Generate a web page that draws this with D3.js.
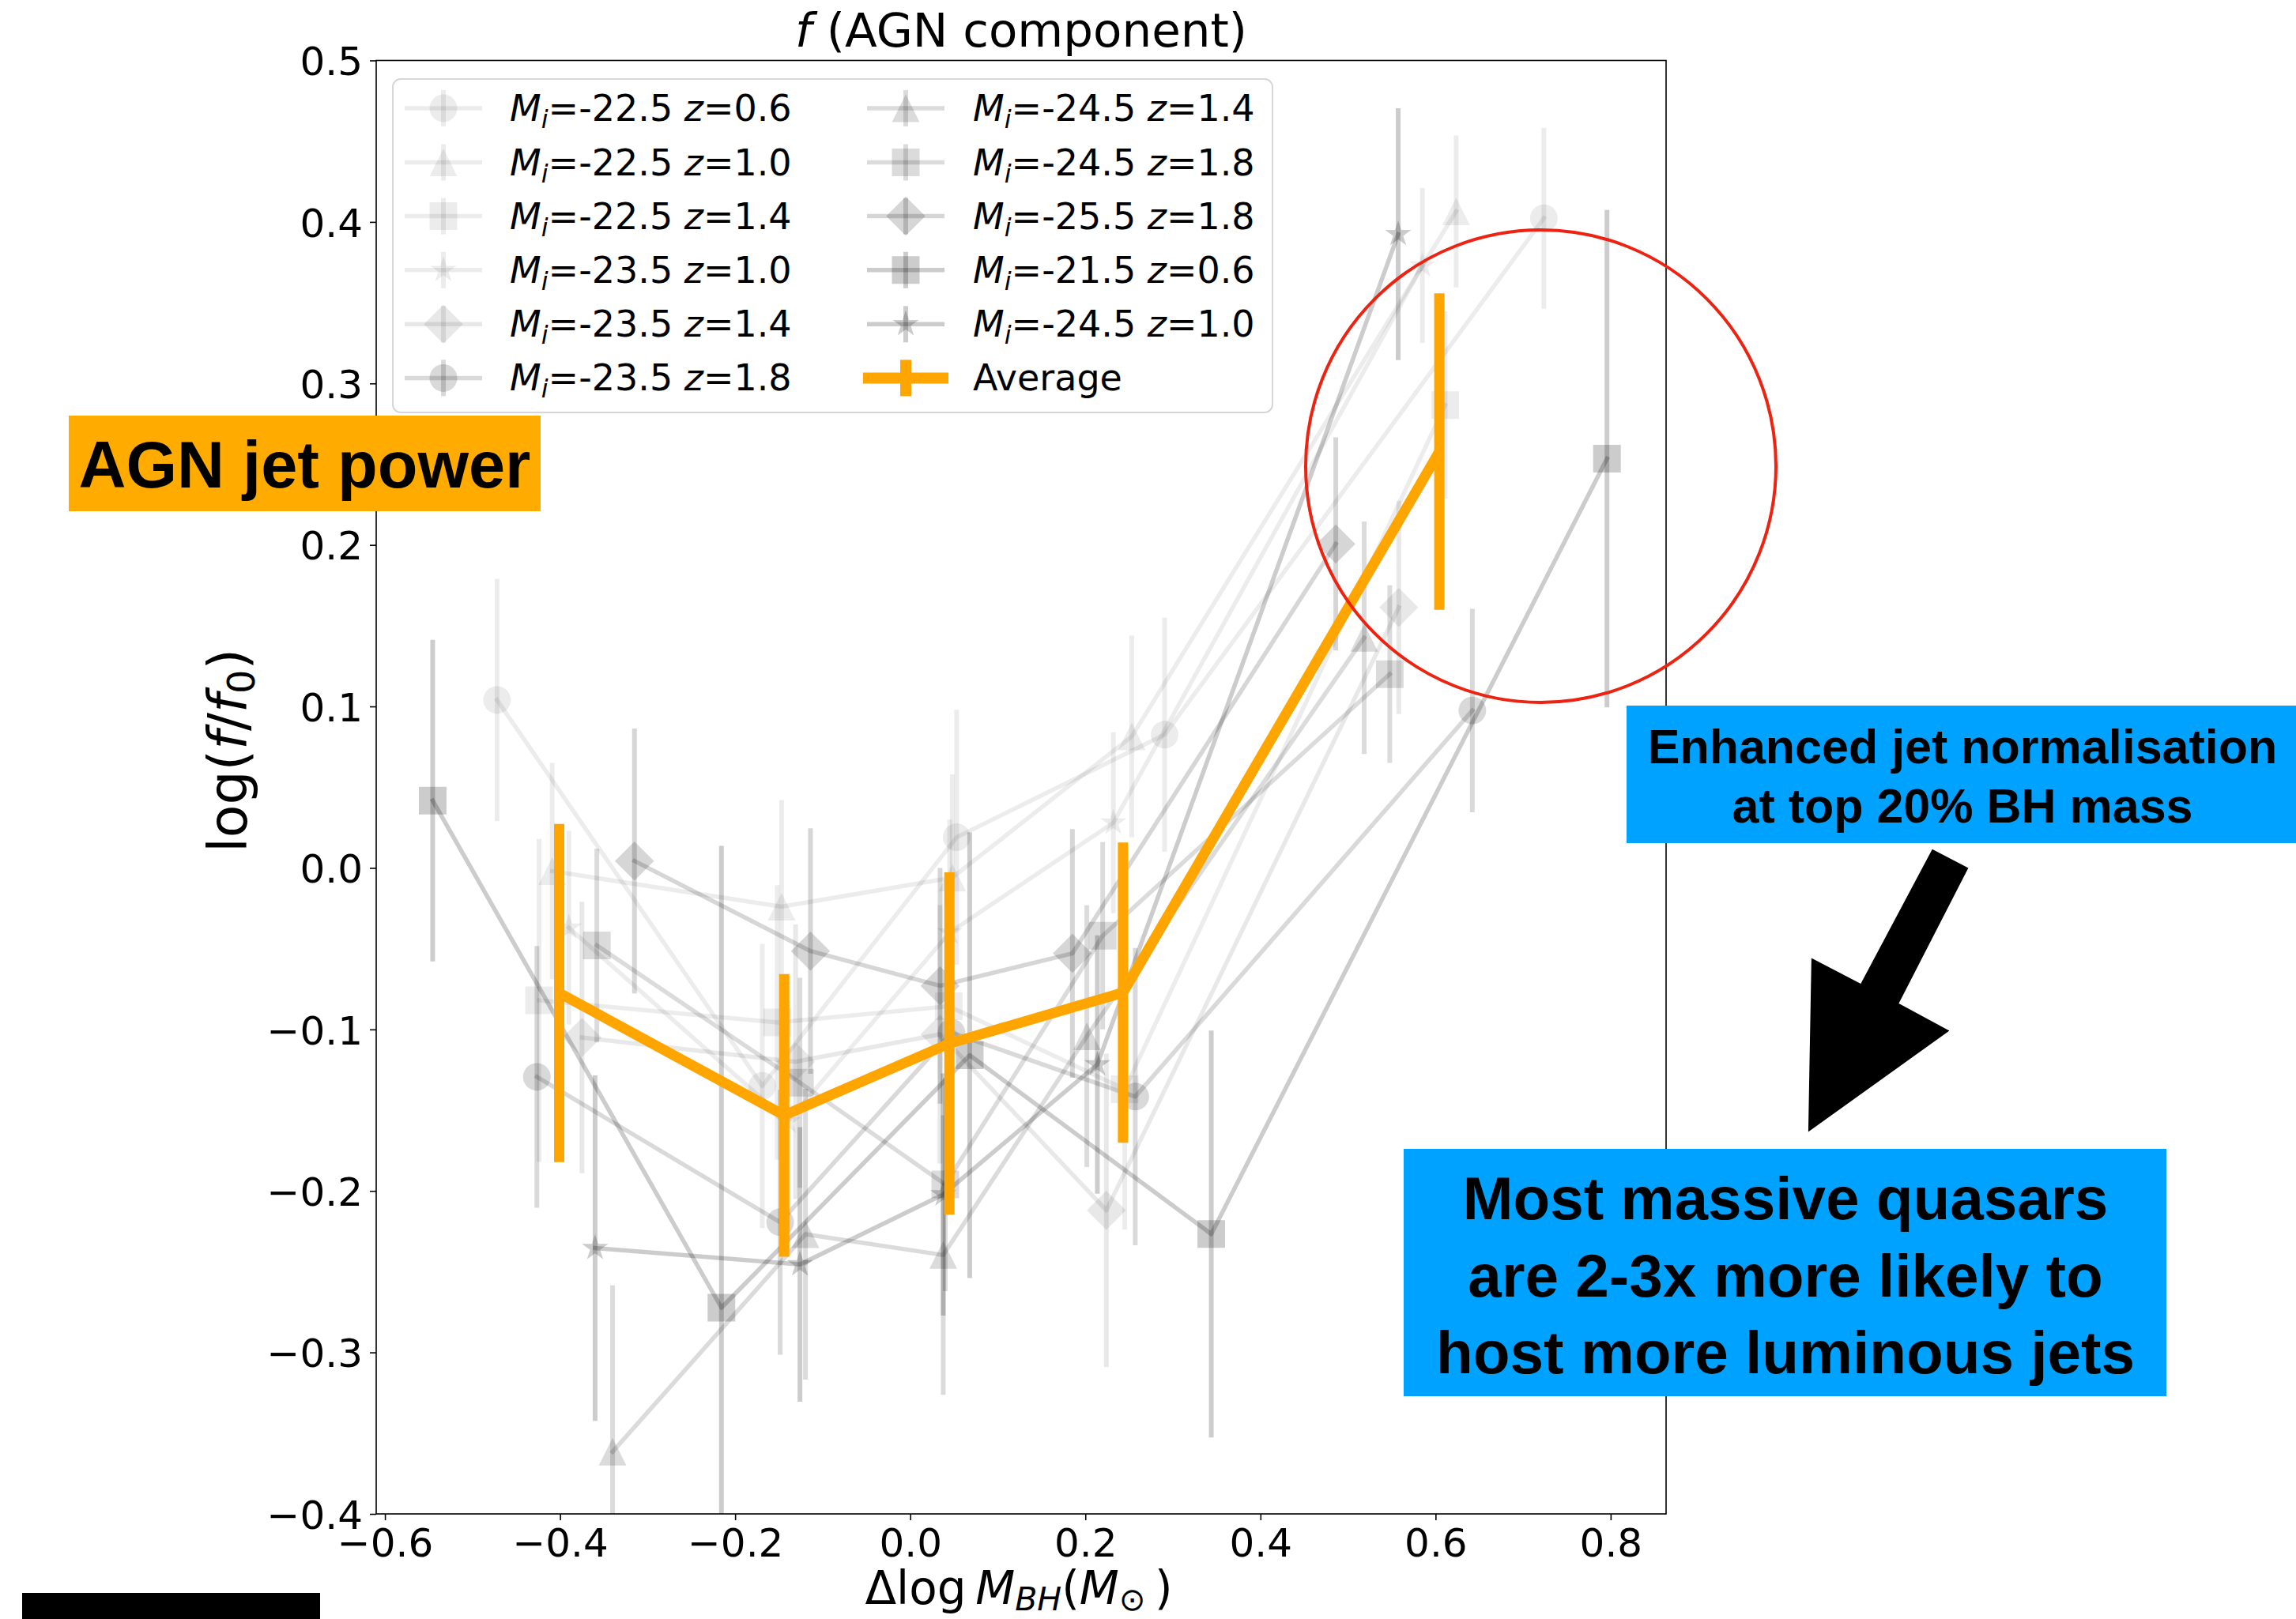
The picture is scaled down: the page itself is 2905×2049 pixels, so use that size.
<!DOCTYPE html>
<html>
<head>
<meta charset="utf-8">
<script src="https://cdn.jsdelivr.net/npm/d3@7"></script>
<style>
html,body{margin:0;padding:0;background:#fff;}
svg{display:block;}
</style>
</head>
<body>
<svg id="chart" width="2905" height="2049"></svg>
<script>
// ---------------- DATA ----------------
const magnitudes = ["-22.5","-22.5","-22.5","-23.5","-23.5","-23.5","-24.5","-24.5","-25.5","-21.5","-24.5"];
const redshifts  = ["0.6","1.0","1.4","1.0","1.4","1.8","1.4","1.8","1.8","0.6","1.0"];
const markerShapes = ["circle","triangle","square","star","diamond","circle","triangle","square","diamond","square","star"];

// Mi=-22.5 z=0.6
const s1X = [-0.472, -0.169, 0.053, 0.2905, 0.7237];
const s1Y = [0.104, -0.135, 0.019, 0.0825, 0.4023];
const s1E = [0.075, 0.088, 0.079, 0.0725, 0.056];
// Mi=-22.5 z=1.0
const s2X = [-0.409, -0.147, 0.048, 0.253, 0.6235];
const s2Y = [-0.002, -0.024, -0.006, 0.0814, 0.4065];
const s2E = [0.067, 0.066, 0.064, 0.0625, 0.047];
// Mi=-22.5 z=1.4
const s3X = [-0.424, -0.152, 0.044, 0.245, 0.611];
const s3Y = [-0.082, -0.0957, -0.0856, -0.137, 0.2866];
const s3E = [0.10, 0.085, 0.075, 0.087, 0.058];
// Mi=-23.5 z=1.0
const s4X = [-0.390, -0.140, 0.045, 0.232, 0.585];
const s4Y = [-0.037, -0.157, -0.04, 0.028, 0.373];
const s4E = [0.06, 0.075, 0.07, 0.056, 0.048];
// Mi=-23.5 z=1.4
const s5X = [-0.375, -0.131, 0.034, 0.224, 0.558];
const s5Y = [-0.105, -0.12, -0.103, -0.212, 0.1613];
const s5E = [0.084, 0.085, 0.08, 0.097, 0.066];
// Mi=-23.5 z=1.8
const s6X = [-0.4265, -0.1486, 0.047, 0.257, 0.642];
const s6Y = [-0.1294, -0.2194, -0.102, -0.1416, 0.0975];
const s6E = [0.081, 0.082, 0.085, 0.092, 0.063];
// Mi=-24.5 z=1.4
const s7X = [-0.340, -0.1197, 0.0377, 0.2017, 0.5185];
const s7Y = [-0.3615, -0.2268, -0.2397, -0.1042, 0.1425];
const s7E = [0.103, 0.090, 0.0865, 0.081, 0.072];
// Mi=-24.5 z=1.8
const s8X = [-0.358, -0.126, 0.040, 0.2198, 0.5477];
const s8Y = [-0.048, -0.133, -0.196, -0.042, 0.12];
const s8E = [0.060, 0.065, 0.066, 0.058, 0.055];
// Mi=-25.5 z=1.8
const s9X = [-0.315, -0.114, 0.0341, 0.1852, 0.486];
const s9Y = [0.0043, -0.0515, -0.073, -0.0529, 0.2006];
const s9E = [0.082, 0.076, 0.073, 0.077, 0.066];
// Mi=-21.5 z=0.6
const s10X = [-0.5455, -0.2157, 0.0679, 0.3438, 0.7958];
const s10Y = [0.0417, -0.2723, -0.116, -0.2267, 0.2534];
const s10E = [0.0996, 0.286, 0.138, 0.126, 0.154];
// Mi=-24.5 z=1.0
const s11X = [-0.360, -0.126, 0.0377, 0.2137, 0.5573];
const s11Y = [-0.2354, -0.2455, -0.2022, -0.1217, 0.3924];
const s11E = [0.107, 0.085, 0.075, 0.080, 0.078];
// Average
const avgX = [-0.401, -0.144, 0.0447, 0.243, 0.6043];
const avgY = [-0.0774, -0.1532, -0.1087, -0.0772, 0.2578];
const avgE = [0.1047, 0.0875, 0.106, 0.093, 0.098];

const xTicks = [-0.6, -0.4, -0.2, 0.0, 0.2, 0.4, 0.6, 0.8];
const yTicks = [-0.4, -0.3, -0.2, -0.1, 0.0, 0.1, 0.2, 0.3, 0.4, 0.5];

// ---------------- STYLE ----------------
const seriesAlpha = [0.075, 0.075, 0.075, 0.075, 0.09, 0.15, 0.14, 0.14, 0.16, 0.2, 0.2];
const allX = [s1X,s2X,s3X,s4X,s5X,s6X,s7X,s8X,s9X,s10X,s11X];
const allY = [s1Y,s2Y,s3Y,s4Y,s5Y,s6Y,s7Y,s8Y,s9Y,s10Y,s11Y];
const allE = [s1E,s2E,s3E,s4E,s5E,s6E,s7E,s8E,s9E,s10E,s11E];
const series = magnitudes.map((m, i) => ({
  mag: m, z: redshifts[i], shape: markerShapes[i], alpha: seriesAlpha[i],
  pts: allX[i].map((x, j) => ({x, y: allY[i][j], e: allE[i][j]}))
}));
const avgPts = avgX.map((x, j) => ({x, y: avgY[j], e: avgE[j]}));

const ORANGE = "#FFA500";
const MS = 35;         // marker size
const LW = 5.5;        // gray line width
const ELW = 6;         // gray error bar width
const ALW = 13;        // average line width

const plot = {left: 476, right: 2108, top: 76.5, bottom: 1916};
const x = d3.scaleLinear().domain([-0.61, 0.8633]).range([plot.left, plot.right]);
const y = d3.scaleLinear().domain([-0.4, 0.5]).range([plot.bottom, plot.top]);

const svg = d3.select("#chart");
svg.append("rect").attr("width", 2905).attr("height", 2049).attr("fill", "#fff");

svg.append("defs").append("clipPath").attr("id", "clip")
  .append("rect").attr("x", plot.left).attr("y", plot.top)
  .attr("width", plot.right - plot.left).attr("height", plot.bottom - plot.top);

function markerPath(shape, ms) {
  const r = ms / 2;
  if (shape === "circle") {
    const p = d3.path(); p.arc(0, 0, r, 0, 2 * Math.PI); p.closePath(); return p.toString();
  }
  if (shape === "square") return `M${-r},${-r}H${r}V${r}H${-r}Z`;
  if (shape === "diamond") { const d = r * Math.SQRT2; return `M0,${-d}L${d},0L0,${d}L${-d},0Z`; }
  if (shape === "triangle") return `M0,${-r}L${r},${r}L${-r},${r}Z`;
  if (shape === "star") {
    let s = "";
    for (let i = 0; i < 10; i++) {
      const rad = (i % 2 === 0) ? r : r * 0.381966;
      const a = -Math.PI / 2 + i * Math.PI / 5;
      s += (i === 0 ? "M" : "L") + (rad * Math.cos(a)).toFixed(2) + "," + (rad * Math.sin(a)).toFixed(2);
    }
    return s + "Z";
  }
}

const line = d3.line().x(d => x(d.x)).y(d => y(d.y));
const dataG = svg.append("g").attr("clip-path", "url(#clip)");

series.forEach(s => {
  const g = dataG.append("g");
  g.append("path").attr("d", line(s.pts)).attr("fill", "none")
    .attr("stroke", "#000").attr("stroke-opacity", s.alpha).attr("stroke-width", LW)
    .attr("stroke-linejoin", "round").attr("stroke-linecap", "square");
  g.selectAll("line.eb").data(s.pts).join("line").attr("class", "eb")
    .attr("x1", d => x(d.x)).attr("x2", d => x(d.x))
    .attr("y1", d => y(d.y - d.e)).attr("y2", d => y(d.y + d.e))
    .attr("stroke", "#000").attr("stroke-opacity", s.alpha).attr("stroke-width", ELW);
  g.selectAll("path.mk").data(s.pts).join("path").attr("class", "mk")
    .attr("d", markerPath(s.shape, MS))
    .attr("transform", d => `translate(${x(d.x)},${y(d.y)})`)
    .attr("fill", "#000").attr("fill-opacity", s.alpha);
});

// Average
const ag = dataG.append("g");
ag.append("path").attr("d", line(avgPts)).attr("fill", "none")
  .attr("stroke", ORANGE).attr("stroke-width", ALW).attr("stroke-linejoin", "round");
ag.selectAll("line").data(avgPts).join("line")
  .attr("x1", d => x(d.x)).attr("x2", d => x(d.x))
  .attr("y1", d => y(d.y - d.e)).attr("y2", d => y(d.y + d.e))
  .attr("stroke", ORANGE).attr("stroke-width", ALW);

// ---------------- AXES ----------------
const FONT = "'DejaVu Sans', sans-serif";
const fmt = d3.format(".1f");
const xAxis = svg.append("g").attr("transform", `translate(0,${plot.bottom})`)
  .call(d3.axisBottom(x).tickValues(xTicks).tickFormat(fmt).tickSize(8).tickPadding(10));
xAxis.select(".domain").remove();
xAxis.selectAll("line").attr("stroke", "#000").attr("stroke-width", 1.6);
xAxis.selectAll("text").attr("font-family", FONT).attr("font-size", 50).attr("fill", "#000")
  .attr("y", 18).attr("dy", "0.71em");

const yAxis = svg.append("g").attr("transform", `translate(${plot.left},0)`)
  .call(d3.axisLeft(y).tickValues(yTicks).tickFormat(fmt).tickSize(8).tickPadding(9));
yAxis.select(".domain").remove();
yAxis.selectAll("line").attr("stroke", "#000").attr("stroke-width", 1.6);
yAxis.selectAll("text").attr("font-family", FONT).attr("font-size", 50).attr("fill", "#000")
  .attr("dy", "0.365em");

svg.append("rect").attr("x", plot.left).attr("y", plot.top)
  .attr("width", plot.right - plot.left).attr("height", plot.bottom - plot.top)
  .attr("fill", "none").attr("stroke", "#000").attr("stroke-width", 1.6);

// Title
const title = svg.append("text").attr("x", (plot.left + plot.right) / 2).attr("y", 59)
  .attr("text-anchor", "middle").attr("font-family", FONT).attr("font-size", 59.5).attr("fill", "#000");
title.append("tspan").attr("font-style", "italic").text("f");
title.append("tspan").text(" (AGN component)");

// X label
const xl = svg.append("text").attr("x", 1289).attr("y", 2030)
  .attr("text-anchor", "middle").attr("font-family", FONT).attr("font-size", 58).attr("fill", "#000");
xl.append("tspan").text("\u0394log\u2009");
xl.append("tspan").attr("font-style", "italic").text("M");
xl.append("tspan").attr("font-style", "italic").attr("font-size", 41).attr("dy", 8).text("BH");
xl.append("tspan").attr("dy", -8).text("(");
xl.append("tspan").attr("font-style", "italic").text("M");
xl.append("tspan").attr("font-size", 40).attr("dy", 8).text("\u2299");
xl.append("tspan").attr("dy", -8).text("\u2009)");

// Y label
const yl = svg.append("text").attr("transform", "translate(312,950) rotate(-90)")
  .attr("text-anchor", "middle").attr("font-family", FONT).attr("font-size", 68).attr("fill", "#000");
yl.append("tspan").text("log(");
yl.append("tspan").attr("font-style", "italic").text("f");
yl.append("tspan").text("/");
yl.append("tspan").attr("font-style", "italic").text("f");
yl.append("tspan").attr("font-size", 48).attr("dy", 10).text("0");
yl.append("tspan").attr("dy", -10).text(")");

// ---------------- LEGEND ----------------
const leg = svg.append("g");
leg.append("rect").attr("x", 497).attr("y", 100).attr("width", 1113).attr("height", 422)
  .attr("rx", 10).attr("fill", "#fff").attr("fill-opacity", 0.8)
  .attr("stroke", "#d6d6d6").attr("stroke-width", 2);
const rowY = [137, 205.5, 273.6, 341.8, 410.3, 478.4];
const colHandleX = [561, 1146];
const colTextX = [645, 1231];
const entries = series.map(s => ({type: "s", s})).concat([{type: "avg"}]);
entries.forEach((en, i) => {
  const col = Math.floor(i / 6), row = i % 6;
  const cx = colHandleX[col], cy = rowY[row];
  const g = leg.append("g");
  if (en.type === "s") {
    const s = en.s;
    g.append("line").attr("x1", cx - 49).attr("x2", cx + 49).attr("y1", cy).attr("y2", cy)
      .attr("stroke", "#000").attr("stroke-opacity", s.alpha).attr("stroke-width", LW);
    g.append("line").attr("x1", cx).attr("x2", cx).attr("y1", cy - 23).attr("y2", cy + 23)
      .attr("stroke", "#000").attr("stroke-opacity", s.alpha).attr("stroke-width", ELW);
    g.append("path").attr("d", markerPath(s.shape, MS)).attr("transform", `translate(${cx},${cy})`)
      .attr("fill", "#000").attr("fill-opacity", s.alpha);
    const t = g.append("text").attr("x", colTextX[col]).attr("y", cy + 16)
      .attr("font-family", FONT).attr("font-size", 46).attr("fill", "#000");
    t.append("tspan").attr("font-style", "italic").text("M");
    t.append("tspan").attr("font-style", "italic").attr("font-size", 32).attr("dy", 9).text("i");
    t.append("tspan").attr("dy", -9).text("=" + s.mag + " ");
    t.append("tspan").attr("font-style", "italic").text("z");
    t.append("tspan").text("=" + s.z);
  } else {
    g.append("line").attr("x1", cx - 54).attr("x2", cx + 54).attr("y1", cy).attr("y2", cy)
      .attr("stroke", ORANGE).attr("stroke-width", 14);
    g.append("line").attr("x1", cx).attr("x2", cx).attr("y1", cy - 23).attr("y2", cy + 23)
      .attr("stroke", ORANGE).attr("stroke-width", 14);
    g.append("text").attr("x", colTextX[col]).attr("y", cy + 16)
      .attr("font-family", FONT).attr("font-size", 46).attr("fill", "#000").text("Average");
  }
});

// ---------------- ANNOTATIONS ----------------
const AFONT = "'Liberation Sans', Arial, sans-serif";
const BLUE = "#00A2FF";

svg.append("rect").attr("x", 87).attr("y", 526).attr("width", 597).attr("height", 121).attr("fill", "#FFAB00");
svg.append("text").attr("x", 385.5).attr("y", 617).attr("text-anchor", "middle")
  .attr("font-family", AFONT).attr("font-weight", "bold").attr("font-size", 83).attr("fill", "#000")
  .text("AGN jet power");

svg.append("ellipse").attr("cx", 1949.5).attr("cy", 590).attr("rx", 297.5).attr("ry", 299)
  .attr("fill", "none").attr("stroke", "#EE2211").attr("stroke-width", 4);

svg.append("rect").attr("x", 2058).attr("y", 893).attr("width", 847).attr("height", 174).attr("fill", BLUE);
const t1 = svg.append("text").attr("text-anchor", "middle").attr("font-family", AFONT)
  .attr("font-weight", "bold").attr("font-size", 61).attr("fill", "#000");
t1.append("tspan").attr("x", 2483).attr("y", 966).text("Enhanced jet normalisation");
t1.append("tspan").attr("x", 2483).attr("y", 1041).text("at top 20% BH mass");

svg.append("polygon")
  .attr("points", "2444.8,1074.8 2490.4,1098.6 2402.4,1269.9 2466.4,1304.6 2287.9,1432.5 2291.9,1212.5 2354.3,1245")
  .attr("fill", "#000");

svg.append("rect").attr("x", 1776).attr("y", 1454).attr("width", 965).attr("height", 313).attr("fill", BLUE);
const t2 = svg.append("text").attr("text-anchor", "middle").attr("font-family", AFONT)
  .attr("font-weight", "bold").attr("font-size", 76.5).attr("fill", "#000");
t2.append("tspan").attr("x", 2259).attr("y", 1543).text("Most massive quasars");
t2.append("tspan").attr("x", 2259).attr("y", 1641).text("are 2-3x more likely to");
t2.append("tspan").attr("x", 2259).attr("y", 1738).text("host more luminous jets");

svg.append("rect").attr("x", 28).attr("y", 2016).attr("width", 377).attr("height", 33).attr("fill", "#000");
</script>
</body>
</html>
